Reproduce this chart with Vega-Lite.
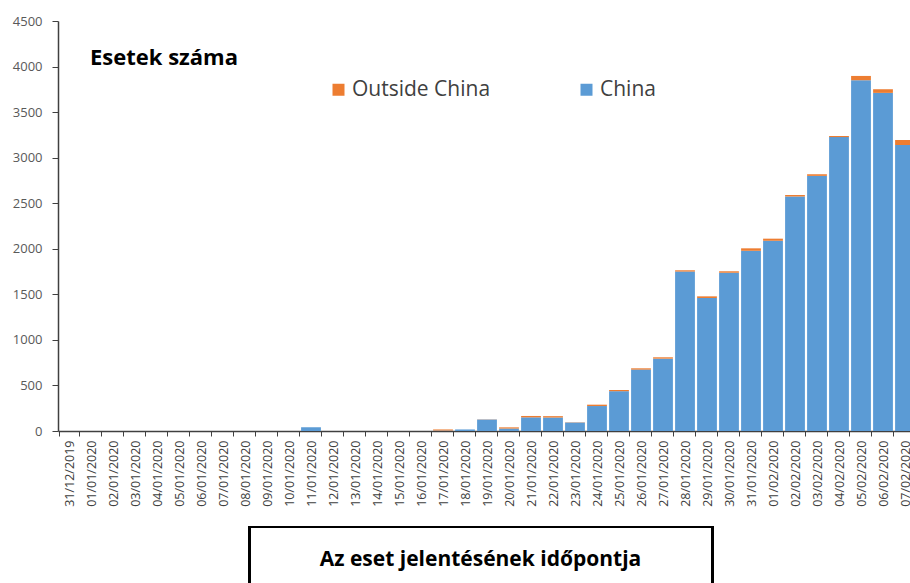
{
  "$schema": "https://vega.github.io/schema/vega-lite/v6.json",
  "width": 858,
  "height": 410,
  "autosize": {"type": "none"},
  "padding": {"left": 58, "top": 21, "right": 0, "bottom": 152},
  "background": "white",
  "config": {"view": {"stroke": null}, "font": "Open Sans"},
  "title": {
    "text": "Esetek száma",
    "anchor": "start",
    "frame": "group",
    "orient": "top",
    "offset": 0,
    "dx": 32,
    "dy": 72,
    "baseline": "alphabetic",
    "fontSize": 22,
    "fontWeight": "bold",
    "font": "Open Sans",
    "color": "black"
  },
  "data": {
    "values": [
      {"date": "31/12/2019", "region": "China", "cases": 0}, {"date": "31/12/2019", "region": "Outside China", "cases": 0},
      {"date": "01/01/2020", "region": "China", "cases": 0}, {"date": "01/01/2020", "region": "Outside China", "cases": 0},
      {"date": "02/01/2020", "region": "China", "cases": 0}, {"date": "02/01/2020", "region": "Outside China", "cases": 0},
      {"date": "03/01/2020", "region": "China", "cases": 0}, {"date": "03/01/2020", "region": "Outside China", "cases": 0},
      {"date": "04/01/2020", "region": "China", "cases": 0}, {"date": "04/01/2020", "region": "Outside China", "cases": 0},
      {"date": "05/01/2020", "region": "China", "cases": 0}, {"date": "05/01/2020", "region": "Outside China", "cases": 0},
      {"date": "06/01/2020", "region": "China", "cases": 0}, {"date": "06/01/2020", "region": "Outside China", "cases": 0},
      {"date": "07/01/2020", "region": "China", "cases": 0}, {"date": "07/01/2020", "region": "Outside China", "cases": 0},
      {"date": "08/01/2020", "region": "China", "cases": 0}, {"date": "08/01/2020", "region": "Outside China", "cases": 0},
      {"date": "09/01/2020", "region": "China", "cases": 0}, {"date": "09/01/2020", "region": "Outside China", "cases": 0},
      {"date": "10/01/2020", "region": "China", "cases": 0}, {"date": "10/01/2020", "region": "Outside China", "cases": 0},
      {"date": "11/01/2020", "region": "China", "cases": 41}, {"date": "11/01/2020", "region": "Outside China", "cases": 0},
      {"date": "12/01/2020", "region": "China", "cases": 0}, {"date": "12/01/2020", "region": "Outside China", "cases": 0},
      {"date": "13/01/2020", "region": "China", "cases": 0}, {"date": "13/01/2020", "region": "Outside China", "cases": 0},
      {"date": "14/01/2020", "region": "China", "cases": 0}, {"date": "14/01/2020", "region": "Outside China", "cases": 0},
      {"date": "15/01/2020", "region": "China", "cases": 0}, {"date": "15/01/2020", "region": "Outside China", "cases": 0},
      {"date": "16/01/2020", "region": "China", "cases": 0}, {"date": "16/01/2020", "region": "Outside China", "cases": 0},
      {"date": "17/01/2020", "region": "China", "cases": 5}, {"date": "17/01/2020", "region": "Outside China", "cases": 12},
      {"date": "18/01/2020", "region": "China", "cases": 17}, {"date": "18/01/2020", "region": "Outside China", "cases": 0},
      {"date": "19/01/2020", "region": "China", "cases": 126}, {"date": "19/01/2020", "region": "Outside China", "cases": 2},
      {"date": "20/01/2020", "region": "China", "cases": 27}, {"date": "20/01/2020", "region": "Outside China", "cases": 13},
      {"date": "21/01/2020", "region": "China", "cases": 150}, {"date": "21/01/2020", "region": "Outside China", "cases": 15},
      {"date": "22/01/2020", "region": "China", "cases": 148}, {"date": "22/01/2020", "region": "Outside China", "cases": 15},
      {"date": "23/01/2020", "region": "China", "cases": 93}, {"date": "23/01/2020", "region": "Outside China", "cases": 2},
      {"date": "24/01/2020", "region": "China", "cases": 274}, {"date": "24/01/2020", "region": "Outside China", "cases": 15},
      {"date": "25/01/2020", "region": "China", "cases": 437}, {"date": "25/01/2020", "region": "Outside China", "cases": 13},
      {"date": "26/01/2020", "region": "China", "cases": 674}, {"date": "26/01/2020", "region": "Outside China", "cases": 14},
      {"date": "27/01/2020", "region": "China", "cases": 794}, {"date": "27/01/2020", "region": "Outside China", "cases": 15},
      {"date": "28/01/2020", "region": "China", "cases": 1750}, {"date": "28/01/2020", "region": "Outside China", "cases": 14},
      {"date": "29/01/2020", "region": "China", "cases": 1460}, {"date": "29/01/2020", "region": "Outside China", "cases": 18},
      {"date": "30/01/2020", "region": "China", "cases": 1737}, {"date": "30/01/2020", "region": "Outside China", "cases": 16},
      {"date": "31/01/2020", "region": "China", "cases": 1978}, {"date": "31/01/2020", "region": "Outside China", "cases": 27},
      {"date": "01/02/2020", "region": "China", "cases": 2088}, {"date": "01/02/2020", "region": "Outside China", "cases": 23},
      {"date": "02/02/2020", "region": "China", "cases": 2574}, {"date": "02/02/2020", "region": "Outside China", "cases": 16},
      {"date": "03/02/2020", "region": "China", "cases": 2800}, {"date": "03/02/2020", "region": "Outside China", "cases": 18},
      {"date": "04/02/2020", "region": "China", "cases": 3226}, {"date": "04/02/2020", "region": "Outside China", "cases": 12},
      {"date": "05/02/2020", "region": "China", "cases": 3850}, {"date": "05/02/2020", "region": "Outside China", "cases": 47},
      {"date": "06/02/2020", "region": "China", "cases": 3711}, {"date": "06/02/2020", "region": "Outside China", "cases": 40},
      {"date": "07/02/2020", "region": "China", "cases": 3139}, {"date": "07/02/2020", "region": "Outside China", "cases": 55}
    ]
  },
  "layer": [
    {
      "mark": {"type": "bar"},
      "encoding": {
        "x": {
          "field": "date",
          "type": "ordinal",
          "sort": null,
          "scale": {"paddingInner": 0.1, "paddingOuter": 0.05},
          "axis": {
            "title": "Az eset jelentésének időpontja",
            "titleFont": "Open Sans",
            "titleFontSize": 21,
            "titleFontWeight": "bold",
            "titleColor": "black",
            "titleX": 422,
            "titleY": 134,
            "titleBaseline": "alphabetic",
            "titleAlign": "center",
            "labelAngle": 270,
            "labelAlign": "right",
            "labelBaseline": "middle",
            "labelFontSize": 12.5,
            "labelColor": "#404040",
            "labelPadding": 4,
            "labelOverlap": false,
            "tickBand": "extent",
            "tickSize": 5,
            "tickColor": "#404040",
            "domainColor": "#404040",
            "domainWidth": 1.5
          }
        },
        "y": {
          "field": "cases",
          "type": "quantitative",
          "stack": "zero",
          "scale": {"domain": [0, 4500], "nice": false},
          "axis": {
            "title": null,
            "format": "d",
            "values": [0, 500, 1000, 1500, 2000, 2500, 3000, 3500, 4000, 4500],
            "grid": false,
            "labelFontSize": 13,
            "labelColor": "#595959",
            "labelPadding": 10,
            "tickSize": 6,
            "tickColor": "#404040",
            "domainColor": "#404040",
            "domainWidth": 1.5
          }
        },
        "color": {
          "field": "region",
          "type": "nominal",
          "scale": {"domain": ["Outside China", "China"], "range": ["#ED7D31", "#5B9BD5"]},
          "legend": {
            "title": null,
            "orient": "none",
            "direction": "horizontal",
            "legendX": 270,
            "legendY": 58,
            "symbolType": "square",
            "symbolSize": 144,
            "symbolStrokeWidth": 0,
            "labelFontSize": 21,
            "labelFont": "Open Sans",
            "labelColor": "#404040",
            "labelOffset": 3,
            "columnPadding": 85
          }
        },
        "order": {"field": "region", "sort": "ascending"}
      }
    },
    {
      "mark": {"type": "rect", "filled": false, "stroke": "black", "strokeWidth": 2},
      "encoding": {
        "x": {"datum": "08/01/2020", "type": "ordinal", "bandPosition": 0.72},
        "x2": {"datum": "29/01/2020", "bandPosition": 0.79},
        "y": {"datum": -1054, "type": "quantitative"},
        "y2": {"datum": -1900}
      }
    }
  ]
}
